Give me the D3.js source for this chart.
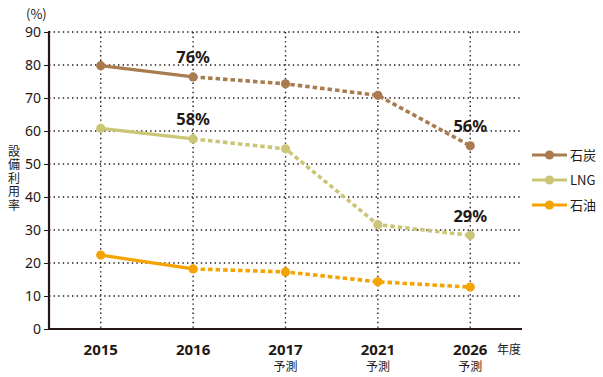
<!DOCTYPE html>
<html lang="ja">
<head>
<meta charset="UTF-8">
<title>設備利用率</title>
<script src="https://d3js.org/d3.v7.min.js"></script>
<style>
    body { margin: 0; background: #fff; }
    text { font-family: "Noto Sans CJK JP", "Noto Sans", sans-serif; fill: #231815; }
</style>
</head>
<body>
<div id="chart"></div>
<script>
    // data
    var years = ["2015", "2016", "2017", "2021", "2026"];
    var forecast = [false, false, true, true, true];
    var coal = [79.8, 76.4, 74.3, 70.8, 55.5];
    var lng = [60.8, 57.6, 54.6, 31.6, 28.4];
    var oil = [22.4, 18.2, 17.3, 14.3, 12.7];
    var yTicks = [0, 10, 20, 30, 40, 50, 60, 70, 80, 90];
    var yTitle = "設備利用率";

    var series = [
        { name: "石炭", values: coal, color: "#a97c50" },
        { name: "LNG", values: lng, color: "#cbc577" },
        { name: "石油", values: oil, color: "#f5a300" }
    ];

    // value labels: series index, year index, text
    var callouts = [
        { s: 0, i: 1, text: "76%" },
        { s: 1, i: 1, text: "58%" },
        { s: 0, i: 4, text: "56%" },
        { s: 1, i: 4, text: "29%" }
    ];

    var W = 603, H = 377;
    // plot box (window.top is reserved, so use other names)
    var plotL = 49, plotR = 522, plotT = 32, plotB = 329;

    var svg = d3.select("#chart").append("svg")
        .attr("width", W)
        .attr("height", H);

    var x = d3.scalePoint()
        .domain(years)
        .range([plotL, plotR])
        .padding(0.56);

    var y = d3.scaleLinear()
        .domain([0, 90])
        .range([plotB, plotT]);

    // grid
    svg.append("g").selectAll("line")
        .data(yTicks.slice(1))
        .enter().append("line")
        .attr("x1", plotL).attr("x2", plotR)
        .attr("y1", function(d) { return y(d); })
        .attr("y2", function(d) { return y(d); })
        .attr("stroke", "#231815")
        .attr("stroke-width", 1.4)
        .attr("stroke-dasharray", "1.4,3.2");

    svg.append("g").selectAll("line")
        .data(years)
        .enter().append("line")
        .attr("x1", function(d) { return x(d); })
        .attr("x2", function(d) { return x(d); })
        .attr("y1", plotT).attr("y2", plotB)
        .attr("stroke", "#231815")
        .attr("stroke-width", 1.4)
        .attr("stroke-dasharray", "1.4,3.2");

    // y axis
    var yAxis = svg.append("g")
        .attr("transform", "translate(" + plotL + ",0)")
        .call(d3.axisLeft(y).tickValues(yTicks).tickSize(5).tickPadding(3));
    yAxis.select(".domain").remove();
    yAxis.selectAll(".tick line").attr("stroke", "#231815");
    yAxis.selectAll(".tick text")
        .style("font-size", "14px")
        .style("font-family", "'Noto Sans', sans-serif")
        .attr("fill", "#231815");

    svg.append("line")
        .attr("x1", plotL).attr("x2", plotL)
        .attr("y1", plotT - 1).attr("y2", plotB + 1)
        .attr("stroke", "#231815")
        .attr("stroke-width", 2.2);

    // x axis
    svg.append("line")
        .attr("x1", plotL - 1).attr("x2", plotR)
        .attr("y1", plotB).attr("y2", plotB)
        .attr("stroke", "#231815")
        .attr("stroke-width", 2.2);

    svg.append("g").selectAll("text")
        .data(years)
        .enter().append("text")
        .attr("x", function(d) { return x(d); })
        .attr("y", 355)
        .attr("text-anchor", "middle")
        .style("font-size", "15px")
        .style("font-weight", "bold")
        .style("font-family", "'Noto Sans', sans-serif")
        .text(function(d) { return d; });

    svg.append("g").selectAll("text")
        .data(years.filter(function(d, i) { return forecast[i]; }))
        .enter().append("text")
        .attr("x", function(d) { return x(d); })
        .attr("y", 371)
        .attr("text-anchor", "middle")
        .style("font-size", "12px")
        .text("予測");

    svg.append("text")
        .attr("x", 497)
        .attr("y", 354)
        .style("font-size", "12px")
        .text("年度");

    svg.append("text")
        .attr("x", 26)
        .attr("y", 19)
        .style("font-size", "13px")
        .text("(%)");

    // vertical axis title, one glyph per row inside a single text
    svg.append("text")
        .attr("text-anchor", "middle")
        .style("font-size", "12px")
        .selectAll("tspan")
        .data(yTitle.split(""))
        .enter().append("tspan")
        .attr("x", 14)
        .attr("y", function(d, i) { return 156 + i * 13.4; })
        .text(function(d) { return d; });

    // lines: solid for actuals, dashed for forecasts
    var line = d3.line()
        .x(function(d) { return x(d.year); })
        .y(function(d) { return y(d.value); });

    series.forEach(function(s) {
        var pts = years.map(function(yr, i) { return { year: yr, value: s.values[i] }; });
        svg.append("path")
            .datum(pts.slice(0, 2))
            .attr("d", line)
            .attr("fill", "none")
            .attr("stroke", s.color)
            .attr("stroke-width", 3.2);
        svg.append("path")
            .datum(pts.slice(1))
            .attr("d", line)
            .attr("fill", "none")
            .attr("stroke", s.color)
            .attr("stroke-width", 3.6)
            .attr("stroke-dasharray", "4.5,3");
        svg.append("g").selectAll("circle")
            .data(pts)
            .enter().append("circle")
            .attr("cx", function(d) { return x(d.year); })
            .attr("cy", function(d) { return y(d.value); })
            .attr("r", 4.6)
            .attr("fill", s.color);
    });

    // value labels
    svg.append("g").selectAll("text")
        .data(callouts)
        .enter().append("text")
        .attr("x", function(d) { return x(years[d.i]); })
        .attr("y", function(d) { return y(series[d.s].values[d.i]) - 13.5; })
        .attr("text-anchor", "middle")
        .style("font-size", "16.5px")
        .style("font-weight", "bold")
        .style("font-family", "'Noto Sans', sans-serif")
        .text(function(d) { return d.text; });

    // legend
    var legend = svg.append("g").attr("transform", "translate(532,155)");
    series.forEach(function(s, i) {
        var g = legend.append("g").attr("transform", "translate(0," + (i * 25) + ")");
        g.append("line")
            .attr("x1", 0).attr("x2", 35)
            .attr("stroke", s.color)
            .attr("stroke-width", 3.2);
        g.append("circle")
            .attr("cx", 17.5).attr("r", 4.6)
            .attr("fill", s.color);
        g.append("text")
            .attr("x", 38)
            .attr("y", 5)
            .style("font-size", "13px")
            .text(s.name);
    });
</script>
</body>
</html>
